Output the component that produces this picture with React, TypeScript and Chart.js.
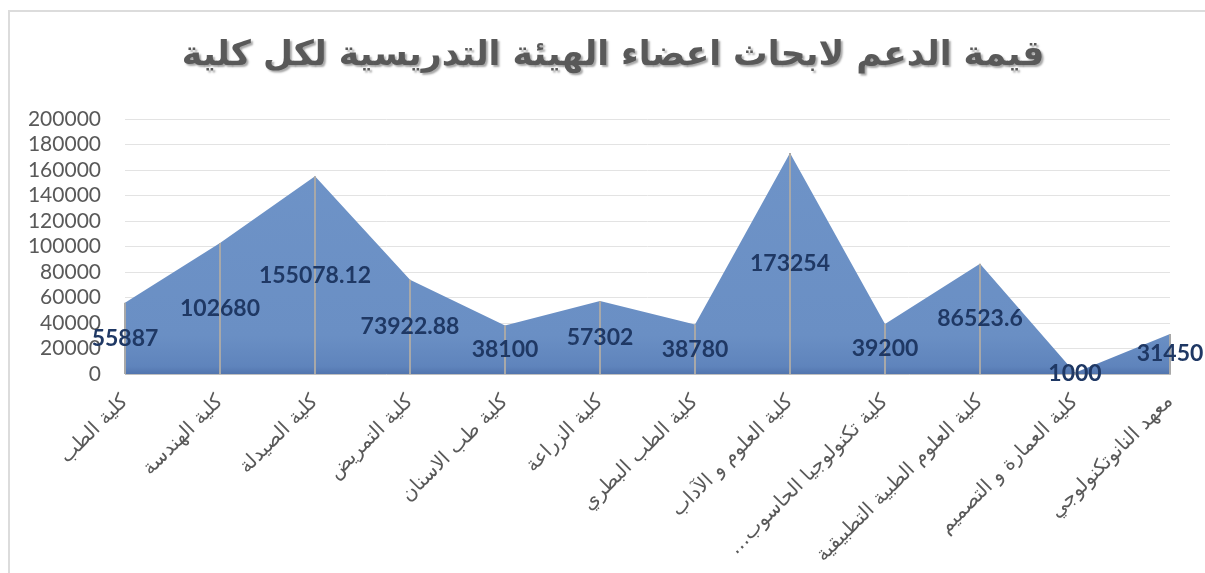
import React, { useEffect, useRef } from "react";
import { Chart, registerables } from "chart.js";

Chart.register(...registerables);

const TITLE = "قيمة الدعم لابحاث اعضاء الهيئة التدريسية لكل كلية";

const categories: string[] = [
  "كلية الطب",
  "كلية الهندسة",
  "كلية الصيدلة",
  "كلية التمريض",
  "كلية طب الاسنان",
  "كلية الزراعة",
  "كلية الطب البطري",
  "كلية العلوم و الآداب",
  "كلية تكنولوجيا الحاسوب…\u200F",
  "كلية العلوم الطبية التطبيقية",
  "كلية العمارة و التصميم",
  "معهد النانوتكنولوجي",
];

const supportValues: number[] = [
  55887, 102680, 155078.12, 73922.88, 38100, 57302, 38780, 173254, 39200,
  86523.6, 1000, 31450,
];

const yTicks: number[] = [0, 20000, 40000, 60000, 80000, 100000, 120000, 140000, 160000, 180000, 200000];

const titlePlugin = {
  id: "customTitle",
  afterDraw(chart: any) {
    const ctx = chart.ctx;
    ctx.save();
    ctx.font = "bold 34.5px 'DejaVu Sans'";
    ctx.textAlign = "center";
    ctx.textBaseline = "middle";
    ctx.shadowColor = "rgba(0,0,0,0.35)";
    ctx.shadowOffsetX = 2;
    ctx.shadowOffsetY = 2;
    ctx.shadowBlur = 2;
    ctx.fillStyle = "#595959";
    ctx.fillText(TITLE, 613, 56);
    ctx.restore();
  },
};

const dropAndLabelPlugin = {
  id: "dropAndLabels",
  afterDatasetsDraw(chart: any) {
    const ctx = chart.ctx;
    const meta = chart.getDatasetMeta(0);
    const yScale = chart.scales.y;
    const bottom = chart.chartArea.bottom;
    ctx.save();
    ctx.strokeStyle = "#a8a8a8";
    ctx.lineWidth = 2;
    meta.data.forEach((pt: any) => {
      ctx.beginPath();
      ctx.moveTo(pt.x, pt.y);
      ctx.lineTo(pt.x, bottom);
      ctx.stroke();
    });
    ctx.font = "bold 23px Lato";
    ctx.fillStyle = "#1f3864";
    ctx.textAlign = "center";
    ctx.textBaseline = "middle";
    meta.data.forEach((pt: any, i: number) => {
      const v = supportValues[i];
      ctx.fillText(String(v), pt.x, yScale.getPixelForValue(v / 2));
    });
    ctx.restore();
  },
};

export default function App() {
  const ref = useRef<HTMLCanvasElement | null>(null);

  useEffect(() => {
    if (!ref.current) return;
    const chart = new Chart(ref.current, {
      type: "line",
      data: {
        labels: categories,
        datasets: [
          {
            data: supportValues,
            fill: "origin",
            tension: 0,
            pointRadius: 0,
            borderWidth: 0,
            borderColor: "rgba(0,0,0,0)",
            backgroundColor: (c: any) => {
              const area = c.chart.chartArea;
              if (!area) return "#6a8fc4";
              const g = c.chart.ctx.createLinearGradient(0, area.top, 0, area.bottom);
              g.addColorStop(0, "#6f94c8");
              g.addColorStop(0.85, "#6a8fc4");
              g.addColorStop(0.97, "#5f84bc");
              g.addColorStop(1, "#5275ae");
              return g;
            },
          },
        ],
      },
      options: {
        animation: false,
        responsive: false,
        maintainAspectRatio: false,
        layout: { padding: { top: 119, left: 0, right: 35, bottom: 0 } },
        plugins: {
          legend: { display: false },
          tooltip: { enabled: false },
          title: { display: false },
        },
        scales: {
          x: {
            offset: false,
            grid: { display: false, drawTicks: false },
            border: { display: true, color: "#bfbfbf", width: 1 },
            ticks: {
              autoSkip: false,
              minRotation: 45,
              maxRotation: 45,
              padding: 16,
              color: "#595959",
              font: { family: "'DejaVu Sans'", size: 20 },
            },
            afterFit: (s: any) => {
              s.height = 199;
            },
          },
          y: {
            min: 0,
            max: 200000,
            afterBuildTicks: (s: any) => {
              s.ticks = yTicks.map((v) => ({ value: v }));
            },
            grid: { color: "#e3e3e3", lineWidth: 1, drawTicks: false },
            border: { display: false },
            ticks: {
              autoSkip: false,
              padding: 24,
              color: "#595959",
              font: { family: "Lato", size: 21 },
              callback: (v: any) => String(v),
            },
            afterFit: (s: any) => {
              s.width = 125;
            },
          },
        },
      },
      plugins: [dropAndLabelPlugin, titlePlugin],
    });
    return () => chart.destroy();
  }, []);

  return (
    <div
      style={{
        position: "fixed",
        left: 0,
        top: 0,
        width: 1205,
        height: 573,
        overflow: "hidden",
        background: "#ffffff",
      }}
    >
      <div
        style={{
          position: "absolute",
          left: 8,
          top: 10,
          width: 1400,
          height: 800,
          border: "2px solid #dcdcdc",
        }}
      />
      <canvas ref={ref} width={1205} height={573} style={{ position: "absolute", left: 0, top: 0 }} />
    </div>
  );
}
